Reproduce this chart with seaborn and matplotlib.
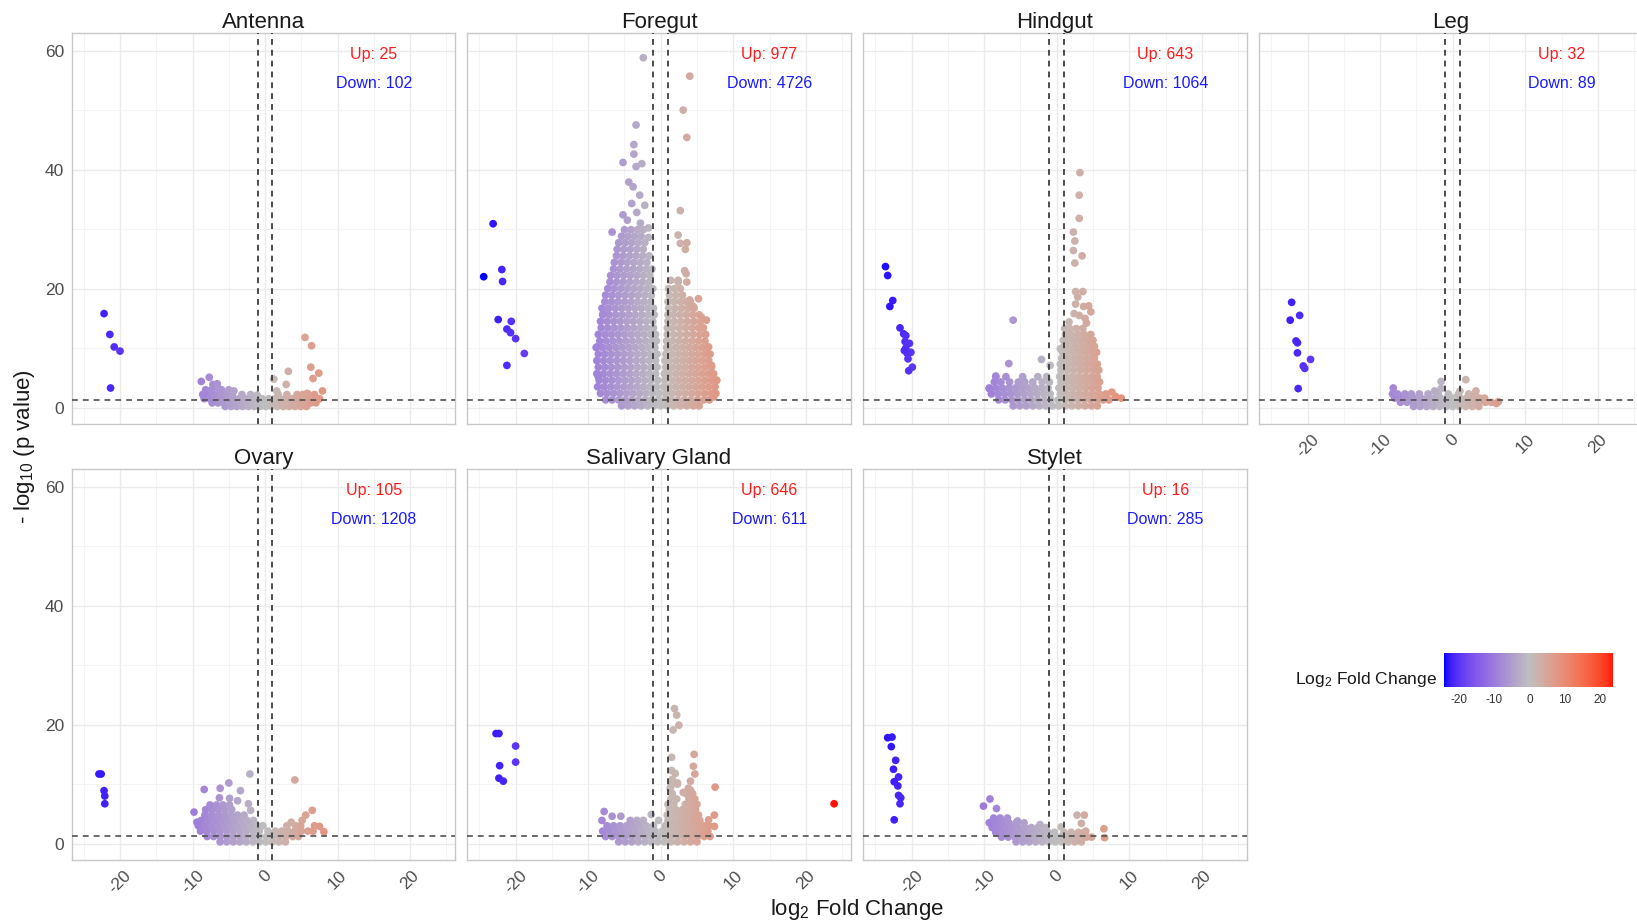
import numpy as np
import pandas as pd
import matplotlib
matplotlib.use("Agg")
import matplotlib.pyplot as plt
import seaborn as sns
from matplotlib.colors import ListedColormap, Normalize
from matplotlib.cm import ScalarMappable
from matplotlib.ticker import FixedLocator

# ---------------- data ----------------
tissues = ["Antenna", "Foregut", "Hindgut", "Leg", "Ovary", "Salivary Gland", "Stylet"]
up_counts = [25, 977, 643, 32, 105, 646, 16]
down_counts = [102, 4726, 1064, 89, 1208, 611, 285]

# isolated points (log2 fold change, -log10 p)
antenna_fc = [-22.2, -21.4, -20.8, -20.0, -21.3, 5.5, 6.4, 3.2, 6.3, 6.6, 7.4, 7.9, 1.2, 1.6,
              -8.8, -7.7, -7.2, -6.6, -6.4, -4.3, -8.5, -1.1, 2.9, 5.8, 6.9]
antenna_p = [15.8, 12.3, 10.2, 9.5, 3.3, 11.8, 10.4, 6.1, 6.8, 4.9, 5.8, 2.8, 4.8, 2.8,
             4.4, 5.1, 3.9, 4.0, 3.2, 2.8, 2.2, 2.1, 3.9, 2.4, 1.8]
antenna_rows_p = [0.2, 0.8, 1.5, 2.2, 3.0]
antenna_rows_fc = [
    [-5.5, -4.7, -3.9, -3.1, -2.3, -1.5, -0.7, 0.1, 0.9, 1.7, 2.5, 3.3, 4.1, 4.9, 5.7],
    [-7.3, -6.5, -5.7, -4.9, -4.1, -3.3, -2.5, -1.7, -0.9, -0.1, 0.7, 1.5, 2.3, 3.1, 3.9, 4.7, 5.5, 6.3, 7.0],
    [-8.4, -7.6, -6.8, -6.0, -5.2, -4.4, -3.6, -2.8, -2.0, -1.2, -0.4, 0.5, 1.3, 2.1, 2.9, 3.7, 4.5, 5.3, 6.1, 6.9, 7.5],
    [-8.6, -7.8, -7.0, -6.2, -5.3, -4.5, -3.2, -2.0, 1.8, 3.0, 4.4, 5.2, 6.0, 6.8],
    [-8.2, -7.4, -6.0, -5.0],
]

foregut_fc = [-23.1, -21.9, -24.4, -21.8, -22.4, -20.6, -21.2, -20.7, -20.0, -18.8, -21.2,
              -2.4, 4.0, 3.1, 3.6, -3.4, -3.7, -3.7, -5.2, -3.4, -2.6, -4.4, -3.8, -2.9, -2.2, -4.0,
              -5.2, -6.7, -1.7, -1.7, -4.6, -3.3, -2.8,
              2.7, 2.4, 2.7, 3.6, 3.4, 3.3, 3.5, 2.4, 1.4, 3.6, 4.0, 5.2, 4.5, 5.6, 6.3, 6.6, 7.0, 7.7, 7.3,
              -8.8, -8.6, -7.9]
foregut_p = [30.9, 23.2, 22.0, 21.2, 14.8, 14.5, 13.2, 12.6, 11.6, 9.1, 7.1,
             58.8, 55.7, 50.0, 45.4, 47.5, 44.2, 42.6, 41.2, 40.5, 41.0, 37.9, 37.1, 35.7, 34.0, 34.3,
             32.4, 29.5, 30.2, 28.6, 31.5, 32.8, 31.0,
             33.1, 29.0, 27.6, 27.7, 26.6, 23.0, 22.5, 21.4, 21.4, 21.1, 18.1, 18.3, 17.0, 15.2, 14.7, 10.2, 7.1, 4.6, 1.8,
             10.2, 5.2, 15.8]
foregut_rows_p = [0.3, 1.3, 2.4, 3.5, 4.6, 5.7, 6.8, 7.9, 9.0, 10.1, 11.2, 12.3, 13.4, 14.5, 15.6,
                  16.7, 17.8, 18.9, 20.0, 21.1, 22.2, 23.3, 24.4, 25.5, 26.6, 27.7, 28.8, 29.9]
foregut_rows_fc = [
    [-5.4, -4.5, -3.6, -2.7, -1.8, -0.9, 0.0, 0.9, 1.8, 2.7, 3.6, 4.5, 5.3],
    [-7.6, -6.7, -5.8, -4.9, -4.0, -3.1, -2.2, -1.3, -0.4, 0.5, 1.4, 2.3, 3.2, 4.1, 5.0, 5.9, 6.7],
    [-8.3, -7.4, -6.5, -5.6, -4.7, -3.8, -2.9, -2.0, -1.1, -0.2, 0.7, 1.6, 2.5, 3.4, 4.3, 5.2, 6.1, 7.0, 7.6],
    [-8.7, -7.8, -6.9, -6.0, -5.1, -4.2, -3.3, -2.4, -1.5, -0.6, 0.4, 1.2, 2.1, 3.0, 3.9, 4.8, 5.7, 6.6, 7.5],
    [-8.5, -7.6, -6.7, -5.8, -4.9, -4.0, -3.1, -2.2, -1.3, -0.4, 0.6, 1.6, 2.5, 3.4, 4.3, 5.2, 6.1, 7.0, 7.7],
    [-8.8, -7.9, -7.0, -6.1, -5.2, -4.3, -3.4, -2.5, -1.6, -0.7, 0.5, 1.2, 2.1, 3.0, 3.9, 4.8, 5.7, 6.6, 7.3],
    [-8.6, -7.7, -6.8, -5.9, -5.0, -4.1, -3.2, -2.3, -1.4, -0.5, 0.7, 1.6, 2.5, 3.4, 4.3, 5.2, 6.1, 7.0],
    [-8.8, -7.9, -7.0, -6.1, -5.2, -4.3, -3.4, -2.5, -1.6, -0.7, 0.6, 1.2, 2.1, 3.0, 3.9, 4.8, 5.7, 6.6],
    [-8.6, -7.7, -6.8, -5.9, -5.0, -4.1, -3.2, -2.3, -1.4, -0.5, 0.7, 1.6, 2.5, 3.4, 4.3, 5.2, 6.1, 6.8],
    [-8.9, -8.0, -7.1, -6.2, -5.3, -4.4, -3.5, -2.6, -1.7, -0.8, 0.8, 1.2, 2.1, 3.0, 3.9, 4.8, 5.7, 6.5],
    [-8.4, -7.5, -6.6, -5.7, -4.8, -3.9, -3.0, -2.1, -1.2, -0.6, 0.8, 1.6, 2.5, 3.4, 4.3, 5.2, 6.1],
    [-8.6, -7.7, -6.8, -5.9, -5.0, -4.1, -3.2, -2.3, -1.4, -0.7, 0.9, 1.8, 2.7, 3.6, 4.5, 5.4, 6.2],
    [-8.2, -7.3, -6.4, -5.5, -4.6, -3.7, -2.8, -1.9, -1.0, 0.9, 1.6, 2.5, 3.4, 4.3, 5.2, 5.9],
    [-8.3, -7.4, -6.5, -5.6, -4.7, -3.8, -2.9, -2.0, -1.1, 1.0, 1.9, 2.8, 3.7, 4.6, 5.5],
    [-8.0, -7.1, -6.2, -5.3, -4.4, -3.5, -2.6, -1.7, -0.9, 1.0, 1.7, 2.6, 3.5, 4.4, 5.3],
    [-8.1, -7.2, -6.3, -5.4, -4.5, -3.6, -2.7, -1.8, -1.0, 1.1, 2.0, 2.9, 3.8, 4.6],
    [-7.7, -6.8, -5.9, -5.0, -4.1, -3.2, -2.3, -1.4, 1.0, 1.8, 2.7, 3.5, 4.1],
    [-7.6, -6.7, -5.8, -4.9, -4.0, -3.1, -2.2, -1.3, 1.2, 2.1, 3.0],
    [-7.3, -6.4, -5.5, -4.6, -3.7, -2.8, -1.9, -1.1, 1.1, 1.9, 2.7],
    [-7.0, -6.1, -5.2, -4.3, -3.4, -2.5, -1.6, 2.4],
    [-6.9, -6.0, -5.1, -4.2, -3.3, -2.4, -1.5],
    [-6.5, -5.6, -4.7, -3.8, -2.9, -2.0, -1.2],
    [-6.4, -5.5, -4.6, -3.7, -2.8, -1.9],
    [-6.1, -5.2, -4.3, -3.4, -2.5, -1.6],
    [-6.0, -5.1, -4.2, -3.3, -2.4],
    [-5.8, -4.9, -4.0, -3.1, -2.2],
    [-5.4, -4.5, -3.6, -2.7],
    [-5.0, -4.1, -3.2, -2.4],
]

hindgut_fc = [-23.6, -23.3, -22.6, -23.0, -21.6, -21.1, -20.8, -20.9, -20.3, -20.8, -20.1, -20.6, -20.5,
              -19.9, -20.4, -21.0,
              3.2, 3.1, 3.1, 2.3, 2.5, 2.3, 3.5, 2.5, 2.6, 3.6, 2.9, 2.6, 3.7, 4.4, 4.7, 3.1, 4.1, 1.7,
              2.4, 3.9, -6.0, -6.6, -2.1, -0.9, -8.4, 0.5, 8.1, 8.9, 7.6, -9.3]
hindgut_p = [23.7, 22.2, 18.0, 17.0, 13.4, 12.4, 12.1, 11.1, 10.8, 10.0, 9.3, 9.1, 8.2,
             6.8, 6.2, 9.6,
             39.5, 35.7, 31.8, 29.5, 28.0, 26.4, 25.5, 24.3, 19.5, 19.5, 18.6, 17.4, 17.0, 17.1, 16.1, 15.5, 14.2, 14.4,
             15.8, 15.0, 14.7, 7.4, 8.1, 7.1, 5.3, 9.9, 1.9, 1.6, 2.6, 3.2]
hindgut_rows_p = [0.3, 1.3, 2.3, 3.3, 4.3, 5.2, 6.3, 7.3, 8.3, 9.3, 10.3, 11.3, 12.3, 13.3]
hindgut_rows_fc = [
    [-6.0, -5.1, -4.2, -3.3, -2.4, -1.5, -0.6, 0.3, 1.2, 2.1, 3.0, 3.9, 4.8, 5.6],
    [-8.0, -7.1, -6.2, -5.3, -4.4, -3.5, -2.6, -1.7, -0.8, 0.2, 1.1, 2.0, 2.9, 3.8, 4.7, 5.6, 6.4, 7.2],
    [-9.0, -8.1, -7.2, -6.3, -5.4, -4.5, -3.6, -2.7, -1.8, -0.9, 0.5, 1.4, 2.3, 3.2, 4.1, 5.0, 5.9, 6.8],
    [-9.3, -8.4, -7.5, -6.6, -5.7, -4.8, -3.9, -3.0, -2.1, -1.2, 0.3, 1.2, 2.1, 3.0, 3.9, 4.8, 5.7],
    [-8.6, -7.7, -6.5, -5.3, -4.4, -3.3, -2.0, -1.0, 0.6, 1.5, 2.4, 3.3, 4.2, 5.1, 5.9],
    [-8.4, -7.0, -4.7, -2.6, -1.4, 0.4, 1.2, 2.1, 3.0, 3.9, 4.8, 5.6],
    [0.6, 1.5, 2.4, 3.3, 4.2, 5.1, 5.8],
    [0.5, 1.2, 2.1, 3.0, 3.9, 4.8, 5.6],
    [0.7, 1.6, 2.5, 3.4, 4.3, 5.2],
    [0.8, 1.3, 2.2, 3.1, 4.0, 4.9, 5.5],
    [1.0, 1.8, 2.7, 3.6, 4.5, 5.2],
    [0.9, 1.5, 2.4, 3.3, 4.2, 5.0],
    [1.2, 2.0, 2.9, 3.8, 4.7],
    [1.1, 1.8, 2.7, 3.6],
]

leg_fc = [-22.2, -21.1, -22.4, -21.6, -21.4, -21.4, -19.6, -20.6, -20.4, -21.3,
          -8.2, -1.6, -1.6, 1.8, 1.0, 3.2, -2.5, 6.0, 6.3]
leg_p = [17.7, 15.5, 14.7, 11.2, 10.9, 9.2, 8.1, 7.0, 6.6, 3.2,
         3.3, 4.4, 3.2, 4.7, 2.8, 2.8, 2.8, 0.7, 1.0]
leg_rows_p = [0.2, 0.9, 1.6, 2.3]
leg_rows_fc = [
    [-5.4, -4.5, -3.6, -2.7, -1.8, -0.9, 0.0, 0.9, 1.8, 2.7, 3.6],
    [-7.2, -6.3, -5.4, -4.5, -3.6, -2.7, -1.8, -0.9, 0.0, 0.9, 1.8, 2.7, 3.6, 4.5, 5.3],
    [-8.0, -7.1, -6.2, -5.3, -4.4, -3.5, -2.6, -1.7, -0.8, 0.1, 1.0, 1.9, 2.8, 3.7, 4.4],
    [-8.3, -7.6, -6.6, -5.7, -4.6, -3.4, -2.0, -0.6, 0.8, 2.2, 3.1],
]

ovary_fc = [-22.9, -22.6, -22.2, -22.1, -22.1,
            -2.1, 4.1, -5.0, -8.4, -6.2, -3.4, -6.3, -4.9, -9.8, -9.4, 6.5, 5.6, 5.1, 7.5, 8.1, 3.6,
            -3.8, -2.3, -2.0]
ovary_p = [11.7, 11.7, 8.9, 8.0, 6.7,
           11.7, 10.7, 10.2, 9.1, 9.3, 8.9, 7.7, 7.6, 5.3, 3.6, 5.6, 4.8, 3.9, 2.9, 2.0, 3.6,
           7.2, 6.7, 5.6]
ovary_rows_p = [0.3, 1.2, 2.1, 3.0, 3.9, 4.8, 5.7, 6.5]
ovary_rows_fc = [
    [-6.2, -5.3, -4.4, -3.5, -2.6, -1.7, -0.8, 0.1, 1.0, 1.9, 2.8],
    [-8.0, -7.1, -6.2, -5.3, -4.4, -3.5, -2.6, -1.7, -0.8, 0.2, 1.1, 2.0, 2.9, 3.8, 4.6],
    [-8.9, -8.0, -7.1, -6.2, -5.3, -4.4, -3.5, -2.6, -1.7, -0.8, 0.4, 1.4, 2.3, 3.2, 4.1, 5.0, 5.9, 6.6],
    [-9.2, -8.3, -7.4, -6.5, -5.6, -4.7, -3.8, -2.9, -2.0, -1.1, -0.3, 3.0, 4.2, 4.9, 6.8],
    [-8.8, -7.9, -7.0, -6.1, -5.2, -4.3, -3.4, -2.5, -1.6],
    [-8.3, -7.4, -6.5, -5.6, -4.7, -3.8, -2.9],
    [-8.2, -7.3, -6.4, -5.5, -4.6],
    [-7.6, -6.7, -5.8, -4.9],
]

salivary_fc = [-22.7, -22.3, -20.0, -20.0, -22.2, -22.3, -21.7, 23.9,
               1.9, 2.2, 2.5, 1.7, 1.5, 4.6, 4.5, 4.7, 4.1, 7.5, 1.5, 2.0, 1.6, 2.3, 1.4,
               -7.8, -8.1, -6.7, -5.5, -1.3, 7.4, 7.4, 6.6, 3.1, 4.1]
salivary_p = [18.5, 18.5, 16.4, 13.7, 13.1, 11.0, 10.5, 6.7,
              22.7, 21.6, 19.9, 19.1, 14.5, 15.0, 13.0, 11.7, 10.5, 9.5, 12.3, 11.8, 10.8, 10.0, 9.6,
              5.4, 3.9, 4.6, 4.6, 4.9, 4.8, 2.9, 4.0, 8.6, 9.0]
salivary_rows_p = [0.3, 1.2, 2.1, 3.0, 3.9, 4.8, 5.7, 6.6, 7.5, 8.4, 9.3, 10.2]
salivary_rows_fc = [
    [-5.8, -4.9, -4.0, -3.1, -2.2, -1.3, -0.4, 0.5, 1.4, 2.3, 3.2, 4.1, 5.0],
    [-7.6, -6.7, -5.8, -4.9, -4.0, -3.1, -2.2, -1.3, -0.4, 0.6, 1.5, 2.4, 3.3, 4.2, 5.1, 6.0, 6.8],
    [-8.0, -7.1, -6.2, -5.3, -4.4, -3.5, -2.6, -1.7, -0.8, 0.2, 1.1, 2.0, 2.9, 3.8, 4.7, 5.6, 6.5],
    [-7.4, -6.5, -5.6, -4.7, -3.8, -2.9, -2.0, -1.0, 0.6, 1.5, 2.4, 3.3, 4.2, 5.1, 6.0, 6.7],
    [-4.2, -3.3, -2.4, -0.3, 1.0, 1.9, 2.8, 3.7, 4.6, 5.4],
    [0.9, 1.7, 2.6, 3.5, 4.4, 5.2],
    [1.2, 2.1, 3.0, 3.9, 4.8],
    [1.0, 1.8, 3.4, 4.3, 5.0],
    [1.4, 2.2, 3.9, 4.7],
    [1.6, 3.5, 4.4],
    [1.3, 3.8],
    [1.5, 2.3],
]

stylet_fc = [-23.3, -22.7, -22.8, -22.2, -22.5, -21.8, -22.4, -21.9, -21.8, -21.5, -21.6, -22.4,
             -10.1, -9.2, -8.3, -5.4, -2.3, 0.6, 2.8, 3.8, 3.4, 6.5, 6.6, 4.0]
stylet_p = [17.8, 17.9, 16.3, 14.0, 12.5, 11.2, 10.4, 9.7, 8.1, 7.7, 6.7, 4.0,
            6.3, 7.5, 5.9, 3.8, 3.2, 2.8, 4.8, 4.8, 3.4, 2.5, 1.0, 2.1]
stylet_rows_p = [0.3, 1.1, 1.9, 2.7, 3.5, 4.3]
stylet_rows_fc = [
    [-5.6, -4.7, -3.8, -2.9, -2.0, -1.1, -0.2, 0.7, 1.6, 2.5, 3.4],
    [-7.6, -6.7, -5.8, -4.9, -4.0, -3.1, -2.2, -1.3, -0.4, 0.5, 1.4, 2.3, 3.2, 4.1, 4.8],
    [-8.4, -7.5, -6.6, -5.7, -4.8, -3.9, -3.0, -2.1, -1.2, -0.3, 1.0, 2.0, 3.0, 3.8],
    [-8.9, -8.0, -7.1, -6.2, -5.3, -4.4, -3.5, -2.6, -1.5],
    [-9.3, -8.4, -7.5, -6.6, -5.6, -4.5],
    [-8.7, -7.8, -6.8],
]

fc_min, fc_max = -24.3, 23.8
p_threshold = 1.3
fc_threshold = 1.0

# ---------------- style ----------------
sns.set_style("white")
plt.rcParams["font.family"] = ["Liberation Sans", "DejaVu Sans"]
plt.rcParams["mathtext.default"] = "regular"
plt.rcParams["axes.unicode_minus"] = False


def _lab(rgb):
    rgb = np.asarray(rgb, float)
    lin = np.where(rgb <= 0.04045, rgb / 12.92, ((rgb + 0.055) / 1.055) ** 2.4)
    xyz = lin @ _M.T / _W
    d = 6 / 29
    f = np.where(xyz > d ** 3, np.cbrt(xyz), xyz / (3 * d * d) + 4 / 29)
    return np.stack([116 * f[..., 1] - 16, 500 * (f[..., 0] - f[..., 1]), 200 * (f[..., 1] - f[..., 2])], -1)


def _rgb(lab):
    fy = (lab[..., 0] + 16) / 116
    f = np.stack([fy + lab[..., 1] / 500, fy, fy - lab[..., 2] / 200], -1)
    d = 6 / 29
    xyz = np.where(f > d, f ** 3, 3 * d * d * (f - 4 / 29)) * _W
    lin = np.clip(xyz @ np.linalg.inv(_M).T, 0, 1)
    return np.clip(np.where(lin <= 0.0031308, 12.92 * lin, 1.055 * lin ** (1 / 2.4) - 0.055), 0, 1)


_M = np.array([[0.4124564, 0.3575761, 0.1804375],
               [0.2126729, 0.7151522, 0.0721750],
               [0.0193339, 0.1191920, 0.9503041]])
_W = np.array([0.95047, 1.0, 1.08883])
lab_lo, lab_mid, lab_hi = _lab([0, 0, 1]), _lab([0.745, 0.745, 0.745]), _lab([1, 0, 0])
tt = np.linspace(0, 1, 128)[:, None]
cols = np.vstack([_rgb(lab_lo + (lab_mid - lab_lo) * tt), _rgb(lab_mid + (lab_hi - lab_mid) * tt)])
cmap = ListedColormap(cols)
norm = Normalize(-24.3, 24.3)


def make_frame(fc, p, rows_p, rows_fc):
    xs, ys = [], []
    for yv, row in zip(rows_p, rows_fc):
        xs.extend(row)
        ys.extend([yv] * len(row))
    xs.extend(fc)
    ys.extend(p)
    return pd.DataFrame({"fc": xs, "logp": ys})


frames = {
    "Antenna": make_frame(antenna_fc, antenna_p, antenna_rows_p, antenna_rows_fc),
    "Foregut": make_frame(foregut_fc, foregut_p, foregut_rows_p, foregut_rows_fc),
    "Hindgut": make_frame(hindgut_fc, hindgut_p, hindgut_rows_p, hindgut_rows_fc),
    "Leg": make_frame(leg_fc, leg_p, leg_rows_p, leg_rows_fc),
    "Ovary": make_frame(ovary_fc, ovary_p, ovary_rows_p, ovary_rows_fc),
    "Salivary Gland": make_frame(salivary_fc, salivary_p, salivary_rows_p, salivary_rows_fc),
    "Stylet": make_frame(stylet_fc, stylet_p, stylet_rows_p, stylet_rows_fc),
}

W_PX, H_PX = 1637, 924
fig = plt.figure(figsize=(W_PX / 100, H_PX / 100), dpi=100)
col_left_px = [71.7, 467.3, 863.3, 1259.3]
panel_w_px = 383.5
row_top_px = [33.3, 469.3]
panel_h_px = 391.0

for i, name in enumerate(tissues):
    r, c = divmod(i, 4)
    ax = fig.add_axes([col_left_px[c] / W_PX, 1 - (row_top_px[r] + panel_h_px) / H_PX,
                       panel_w_px / W_PX, panel_h_px / H_PX])
    df = frames[name]
    sns.scatterplot(data=df, x="fc", y="logp", hue="fc", palette=cmap, hue_norm=norm,
                    s=31, linewidth=0, alpha=1.0, legend=False, ax=ax, zorder=3)
    for xv in (-fc_threshold, fc_threshold):
        ax.axvline(xv, color="#2e2e2e", lw=1.2, ls=(0, (3.5, 3)), zorder=4)
    ax.axhline(p_threshold, color="#505050", lw=1.2, ls=(0, (3.5, 3)), zorder=4)
    ax.text(15, 59.4, f"Up: {up_counts[i]}", color="#ff1a1a", fontsize=11.5, ha="center", va="center", zorder=5)
    ax.text(15, 54.4, f"Down: {down_counts[i]}", color="#1a1aff", fontsize=11.5, ha="center", va="center", zorder=5)
    ax.set_xlim(-26.66, 26.2)
    ax.set_ylim(-2.8, 62.9)
    ax.xaxis.set_major_locator(FixedLocator([-20, -10, 0, 10, 20]))
    ax.xaxis.set_minor_locator(FixedLocator([-25, -15, -5, 5, 15, 25]))
    ax.yaxis.set_major_locator(FixedLocator([0, 20, 40, 60]))
    ax.yaxis.set_minor_locator(FixedLocator([10, 30, 50]))
    ax.set_axisbelow(True)
    ax.grid(which="major", color="#EBEBEB", lw=1.0)
    ax.grid(which="minor", color="#F4F4F4", lw=0.7)
    ax.tick_params(which="minor", length=0)
    ax.tick_params(which="major", length=3.5, width=0.8, color="#B8B8B8", labelsize=12.5,
                   labelcolor="#4D4D4D", pad=2)
    ax.tick_params(axis="x", labelrotation=45)
    for sp in ax.spines.values():
        sp.set_color("#C8C8C8")
        sp.set_linewidth(1.0)
    ax.set_xlabel("")
    ax.set_ylabel("")
    if c != 0:
        ax.tick_params(axis="y", labelleft=False)
    if r == 0 and c != 3:
        ax.tick_params(axis="x", labelbottom=False)
    ax.set_title(name, fontsize=16, pad=4, color="#1a1a1a")

fig.text(857 / W_PX, 1 - 910 / H_PX, r"log$_2$ Fold Change", fontsize=16, ha="center", va="center",
         color="#1a1a1a")
fig.text(25 / W_PX, 1 - 447 / H_PX, r"- log$_{10}$ (p value)", fontsize=16, ha="center", va="center",
         rotation=90, color="#1a1a1a")

# colour bar legend
cax = fig.add_axes([1444 / W_PX, 1 - 687.3 / H_PX, 169.3 / W_PX, 34 / H_PX])
sm = ScalarMappable(norm=norm, cmap=cmap)
cb = fig.colorbar(sm, cax=cax, orientation="horizontal", boundaries=np.linspace(fc_min, fc_max, 300))
cb.outline.set_visible(False)
cb.set_ticks([-20, -10, 0, 10, 20])
cb.set_ticklabels(["-20", "-10", "0", "10", "20"])
cax.tick_params(axis="x", direction="in", color="white", length=6, width=0.9, top=True, bottom=True,
                labelsize=8.5, labelcolor="#333333", pad=5)
fig.text(1437 / W_PX, 1 - 684 / H_PX, r"Log$_2$ Fold Change", fontsize=12.5, ha="right", va="baseline",
         color="#1a1a1a")

fig.savefig("out.png", dpi=100)
